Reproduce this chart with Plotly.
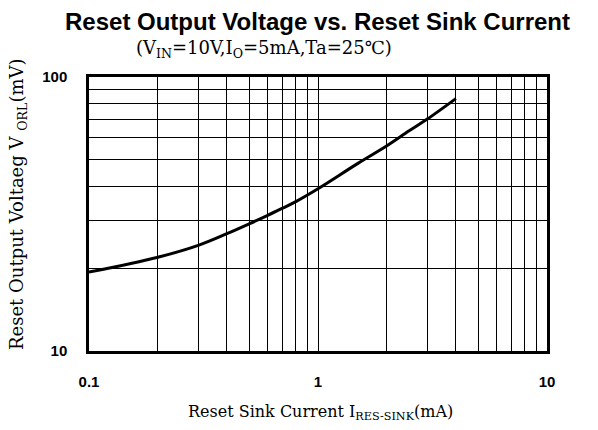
import plotly.graph_objects as go

# Data
sink_current_mA = [0.1, 0.2, 0.3, 0.4, 0.5, 0.6, 0.7, 0.8, 1.0, 1.5, 2.0, 2.5, 3.0, 4.0]
output_voltage_mV = [19.4, 22.0, 24.3, 26.8, 29.1, 31.2, 33.2, 35.1, 39.1, 48.5, 56.1, 63.6, 70.2, 83.4]

x_tickvals = [0.1, 0.2, 0.3, 0.4, 0.5, 0.6, 0.7, 0.8, 0.9,
              1, 2, 3, 4, 5, 6, 7, 8, 9, 10]
x_ticktext = ["<b>0.1</b>"] + [""] * 8 + ["<b>1</b>"] + [""] * 8 + ["<b>10</b>"]
y_tickvals = [10, 20, 30, 40, 50, 60, 70, 80, 90, 100]
y_ticktext = ["<b>10</b>"] + [""] * 8 + ["<b>100</b>"]

title_text = "Reset Output Voltage vs. Reset Sink Current"
subtitle_text = "(V<sub>IN</sub>=10V,I<sub>O</sub>=5mA,Ta=25℃)"
x_title = "Reset Sink Current I<sub>RES-SINK</sub>(mA)"
y_title = "Reset Output Voltaeg V <sub>ORL</sub>(mV)"

W, H = 598, 430
L, R, T, B = 89, 51, 77, 79
plot_w = W - L - R
plot_h = H - T - B

fig = go.Figure()
fig.add_trace(go.Scatter(x=sink_current_mA, y=output_voltage_mV, mode="lines",
                         line=dict(color="black", width=3, shape="spline"),
                         showlegend=False, hoverinfo="skip"))

axis_common = dict(showgrid=True, gridcolor="black", gridwidth=1,
                   showline=True, linecolor="black", linewidth=2.5, mirror=True,
                   ticks="", zeroline=False,
                   tickfont=dict(family="Liberation Sans, Arial", size=15, color="black"))

fig.update_xaxes(type="log", range=[-1, 1], tickvals=x_tickvals, ticktext=x_ticktext,
                 ticklabelstandoff=15, **axis_common)
fig.update_yaxes(type="log", range=[1, 2], tickvals=y_tickvals, ticktext=y_ticktext,
                 ticklabelstandoff=16, **axis_common)

serif = "DejaVu Serif, Liberation Serif, serif"


def px_x(x):
    return (x - L) / plot_w


def px_y(y):
    return (H - B - y) / plot_h


fig.update_layout(
    width=W, height=H,
    margin=dict(l=L, r=R, t=T, b=B),
    paper_bgcolor="white", plot_bgcolor="white",
    annotations=[
        dict(text="<b>" + title_text + "</b>", x=px_x(317), y=px_y(22), xref="paper", yref="paper",
             showarrow=False, font=dict(family="Liberation Sans, Arial", size=24, color="black"),
             xanchor="center", yanchor="middle"),
        dict(text=subtitle_text, x=px_x(264), y=px_y(49), xref="paper", yref="paper",
             showarrow=False, font=dict(family=serif, size=18, color="black"),
             xanchor="center", yanchor="middle"),
        dict(text=x_title, x=px_x(320), y=px_y(412), xref="paper", yref="paper",
             showarrow=False, font=dict(family=serif, size=16, color="black"),
             xanchor="center", yanchor="middle"),
        dict(text=y_title, x=px_x(18), y=px_y(204), xref="paper", yref="paper", textangle=-90,
             showarrow=False, font=dict(family=serif, size=18, color="black"),
             xanchor="center", yanchor="middle"),
    ],
)

fig.write_html("out.html", config={"displayModeBar": False},
               post_script="document.body.style.margin='0';")
